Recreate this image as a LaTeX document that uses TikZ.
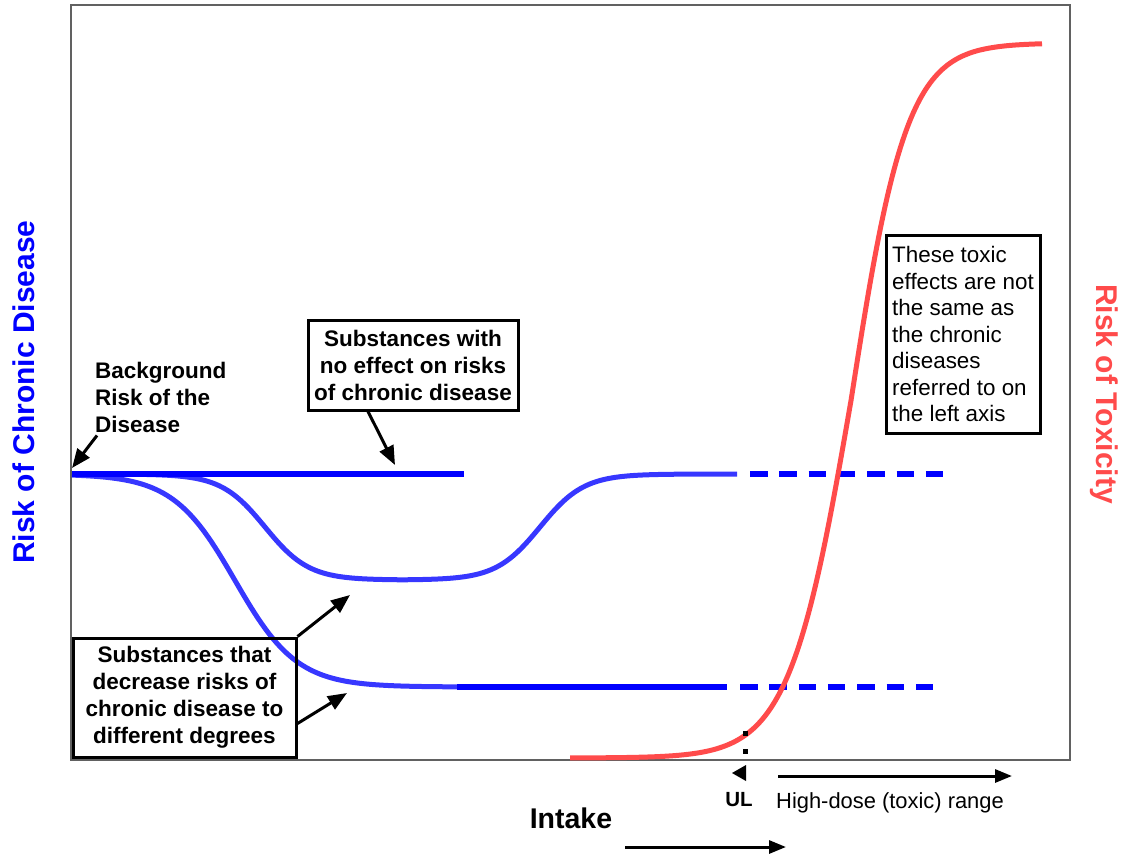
\documentclass[tikz,border=0pt]{standalone}
\usepackage{fontspec}
\setmainfont{Liberation Sans}
\usetikzlibrary{arrows.meta}
\definecolor{myblue}{RGB}{0,0,255}
\definecolor{curveblue}{RGB}{55,55,255}
\definecolor{myred}{RGB}{255,75,75}
\newcommand\boldlab{\fontsize{22.5}{27}\selectfont\bfseries}
\newcommand\plainlab{\fontsize{22.4}{26.5}\selectfont}
\newcommand\axislab{\fontsize{30}{36}\selectfont\bfseries}
\begin{document}
\begin{tikzpicture}[x=1pt,y=-1pt,
  frame/.style={draw=black!62,line width=2pt},
  bluestraight/.style={draw=myblue,line width=6pt},
  bluecurve/.style={draw=curveblue,line width=5pt},
  bluedash/.style={draw=myblue,line width=6pt,dash pattern=on 17.5pt off 11.8pt},
  redcurve/.style={draw=myred,line width=5pt},
  callout/.style={draw=black,line width=3pt,-{Triangle[length=19pt,width=15pt]}},
  rangearrow/.style={draw=black,line width=3pt,-{Triangle[length=17pt,width=13pt]}},
  labelbox/.style={draw=black,line width=3pt,align=center,inner sep=0pt,font=\boldlab},
  notebox/.style={draw=black,line width=3pt,align=left,inner sep=0pt,font=\plainlab},
  plainlabel/.style={inner sep=0pt,font=\plainlab}
]
\useasboundingbox (0,0) rectangle (1124,855);
% frame
\draw[frame] (71,5) rectangle (1070,760);

% blue curves
\draw[bluecurve] plot[domain=72:400,samples=90] (\x,{474+106/(1+exp(-(\x-265)/22))})
   -- plot[domain=400:737,samples=90] (\x,{580-106/(1+exp(-(\x-540)/22))});
\draw[bluecurve] plot[domain=72:470,samples=110] (\x,{474+213/(1+exp(-(\x-235)/31))});
\draw[bluestraight] (72,474) -- (464,474);
\draw[bluestraight] (457,687) -- (727,687);
\draw[bluedash] (750,474) -- (945,474);
\draw[bluedash] (740,687) -- (935,687);

% red curve
\draw[redcurve] plot[domain=570:851,samples=120] (\x,{758-715/(1+exp(-(\x-851)/31))})
   -- plot[domain=851:1042,samples=90] (\x,{758-715/(1+exp(-(\x-851)/28))});

% UL marker
\fill (742.5,731) rectangle (747.5,736);
\fill (742.5,749) rectangle (747.5,754);
\fill (746,765) -- (732,773) -- (746,781) -- cycle;

% labels and boxes
\node[inner sep=0pt,align=left,anchor=west,font=\boldlab] (bg) at (95,397) {Background\\Risk of the\\Disease};
\node[labelbox,minimum width=210pt,minimum height=90pt] (nobox) at (413,365) {Substances with\\no effect on risks\\of chronic disease};
\node[labelbox,minimum width=223pt,minimum height=119pt] (decbox) at (184.5,697.5) {Substances that\\decrease risks of\\chronic disease to\\different degrees};
\node[notebox,minimum width=154pt,minimum height=198pt] (toxbox) at (963,334) {These toxic\\effects are not\\the same as\\the chronic\\diseases\\referred to on\\the left axis};

\node[rotate=90,inner sep=0pt,font=\axislab,text=myblue] (leftaxis) at (24,392) {Risk of Chronic Disease};
\node[rotate=-90,inner sep=0pt,font=\axislab,text=myred] (rightaxis) at (1104,394) {Risk of Toxicity};

\node[inner sep=0pt,font=\fontsize{20.5}{24}\selectfont\bfseries] (ul) at (739,800) {UL};
\node[plainlabel,font=\fontsize{21.9}{26}\selectfont] (hd) at (890,803) {High-dose (toxic) range};
\node[inner sep=0pt,font=\fontsize{28.5}{34}\selectfont\bfseries] (intake) at (571,818) {Intake};

% callout arrows
\coordinate (bgtip) at (72,468);
\coordinate (notip) at (395,465);
\coordinate (midtip) at (350,595);
\coordinate (lowtip) at (347,693);
\draw[callout] ([xshift=2pt,yshift=-3pt]bg.south west) -- (bgtip);
\draw[callout] ([xshift=-45pt]nobox.south) -- (notip);
\draw[callout] (decbox.north east) -- (midtip);
\draw[callout] ([yshift=-26pt]decbox.east) -- (lowtip);

% range arrows
\coordinate (hd1) at (778,776);
\coordinate (hd2) at (1012,776);
\coordinate (in1) at (625,847);
\coordinate (in2) at (786,847);
\draw[rangearrow] (hd1) -- (hd2);
\draw[rangearrow] (in1) -- (in2);
\end{tikzpicture}
\end{document}
